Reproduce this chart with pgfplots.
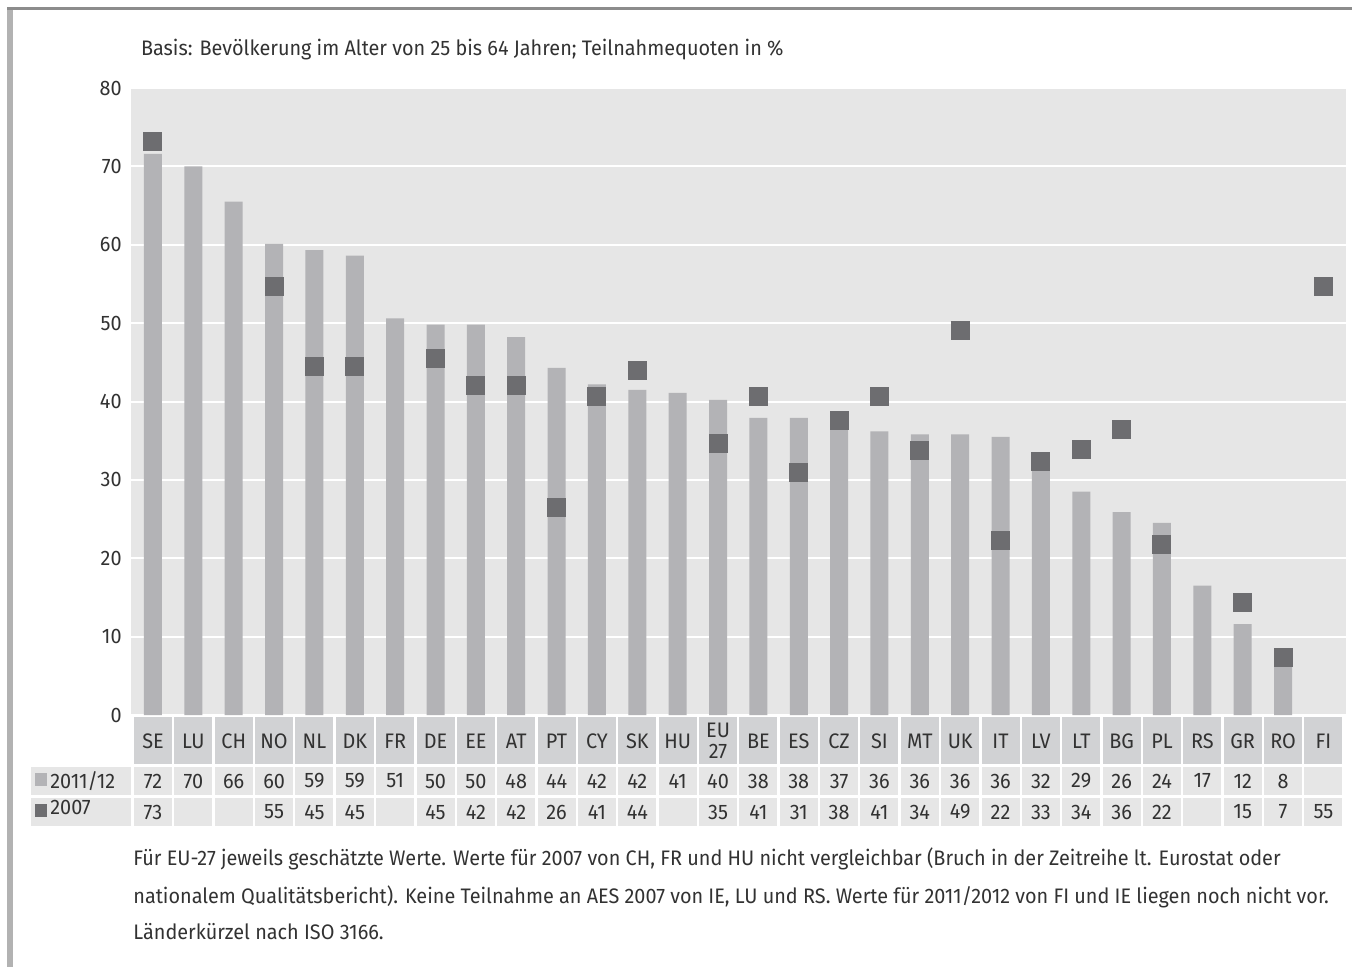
\documentclass[border=0pt]{standalone}
\usepackage{pgfplots}
\pgfplotsset{compat=1.18}
\usepackage{pgfplotstable}
\usepackage{fontspec}
\setmainfont{Fira Sans}[FakeStretch=0.945]

\definecolor{plotbg}{RGB}{230,230,230}
\definecolor{bargray}{RGB}{179,179,182}
\definecolor{sqgray}{RGB}{109,109,112}
\definecolor{hdrgray}{RGB}{209,210,212}
\definecolor{txtgray}{RGB}{50,50,50}

% x, Balken 2011/12, Quadrat 2007, Tabellenwerte
\pgfplotstableread{
x  b2011 b2007 l2011 l2007
0  71.6  73.2  72 73
1  70.0  nan   70 {}
2  65.5  nan   66 {}
3  60.1  54.7  60 55
4  59.3  44.5  59 45
5  58.6  44.5  59 45
6  50.6  nan   51 {}
7  49.8  45.5  50 45
8  49.8  42.0  50 42
9  48.2  42.0  48 42
10 44.3  26.5  44 26
11 42.2  40.6  42 41
12 41.5  43.9  42 44
13 41.1  nan   41 {}
14 40.2  34.7  40 35
15 37.9  40.6  38 41
16 37.9  30.9  38 31
17 37.0  37.6  37 38
18 36.2  40.6  36 41
19 35.8  33.7  36 34
20 35.8  49.1  36 49
21 35.5  22.3  36 22
22 31.8  32.4  32 33
23 28.5  33.9  29 34
24 25.9  36.4  26 36
25 24.5  21.7  24 22
26 16.5  nan   17 {}
27 11.6  14.4  12 15
28 8.0   7.3   8  7
29 nan   54.7  {} 55
}\data

\begin{document}
\begin{tikzpicture}[font=\fontsize{10.5}{12}\selectfont, text=txtgray]
\useasboundingbox (0,0) rectangle (676pt,-483.5pt);
% Rahmen
\fill[black!30] (3.5pt,-4.5pt) rectangle (6.5pt,-483.5pt);
\fill[black!45] (3.5pt,-3.5pt) rectangle (676pt,-5pt);

\node[anchor=west] at (67pt,-25pt) {Basis: Bevölkerung im Alter von 25 bis 64 Jahren; Teilnahmequoten in \%};

\begin{axis}[
  at={(65.5pt,-357.5pt)}, anchor=south west,
  scale only axis, width=607.5pt, height=313.5pt,
  xmin=-0.545, xmax=29.56, ymin=0, ymax=80,
  clip=false,
  axis background/.style={fill=plotbg},
  axis line style={draw=none},
  tick style={draw=none},
  ymajorgrids, grid style={white, line width=1pt},
  ytick={0,10,...,80},
  /pgf/number format/assume math mode=true,
  yticklabel style={inner sep=0pt, xshift=-4.5pt, text=txtgray},
  xtick={0,...,29},
  xticklabels={SE,LU,CH,NO,NL,DK,FR,DE,EE,AT,PT,CY,SK,HU,{EU\\27},BE,ES,CZ,SI,MT,UK,IT,LV,LT,BG,PL,RS,GR,RO,FI},
  xticklabel style={fill=hdrgray, minimum width=19pt, minimum height=23.5pt,
    inner sep=0pt, anchor=north, yshift=-1pt, align=center,
    font=\fontsize{10.5}{10.5}\selectfont, text=txtgray},
]
\addplot[ybar, bar width=9pt, fill=bargray, draw=none] table[x=x, y=b2011] {\data};
\addplot[only marks, color=sqgray, mark=square*, mark size=4.5pt,
  mark options={fill=sqgray, draw=sqgray, line width=0pt}] table[x=x, y=b2007] {\data};
% Wertezeilen unter der Achse
\addplot[draw=none, mark=none, nodes near coords, point meta=explicit symbolic,
  nodes near coords style={anchor=center, yshift=-33pt, fill=plotbg, minimum width=19pt,
    minimum height=14pt, inner sep=0pt, text=txtgray}]
  table[x=x, y expr=0, meta=l2011] {\data};
\addplot[draw=none, mark=none, nodes near coords, point meta=explicit symbolic,
  nodes near coords style={anchor=center, yshift=-48.5pt, fill=plotbg, minimum width=19pt,
    minimum height=14pt, inner sep=0pt, text=txtgray}]
  table[x=x, y expr=0, meta=l2007] {\data};
\end{axis}

% Zeilenbeschriftung
\fill[plotbg] (15.5pt,-383.5pt) rectangle (65.5pt,-397.5pt);
\fill[plotbg] (15.5pt,-399pt) rectangle (65.5pt,-413pt);
\fill[bargray] (17.5pt,-386.5pt) rectangle (23.5pt,-393pt);
\fill[sqgray] (17.5pt,-402pt) rectangle (23.5pt,-408.5pt);
\node[anchor=west, inner sep=0pt] at (25pt,-390.5pt) {2011/12};
\node[anchor=west, inner sep=0pt] at (25pt,-403.5pt) {2007};

% Fußnote
\node[anchor=base west, inner sep=0pt] at (66.5pt,-432.5pt) {Für EU-27 jeweils geschätzte Werte. Werte für 2007 von CH, FR und HU nicht vergleichbar (Bruch in der Zeitreihe lt. Eurostat oder};
\node[anchor=base west, inner sep=0pt] at (66.5pt,-451.5pt) {nationalem Qualitätsbericht). Keine Teilnahme an AES 2007 von IE, LU und RS. Werte für 2011/2012 von FI und IE liegen noch nicht vor.};
\node[anchor=base west, inner sep=0pt] at (66.5pt,-469.5pt) {Länderkürzel nach ISO 3166.};
\end{tikzpicture}
\end{document}
